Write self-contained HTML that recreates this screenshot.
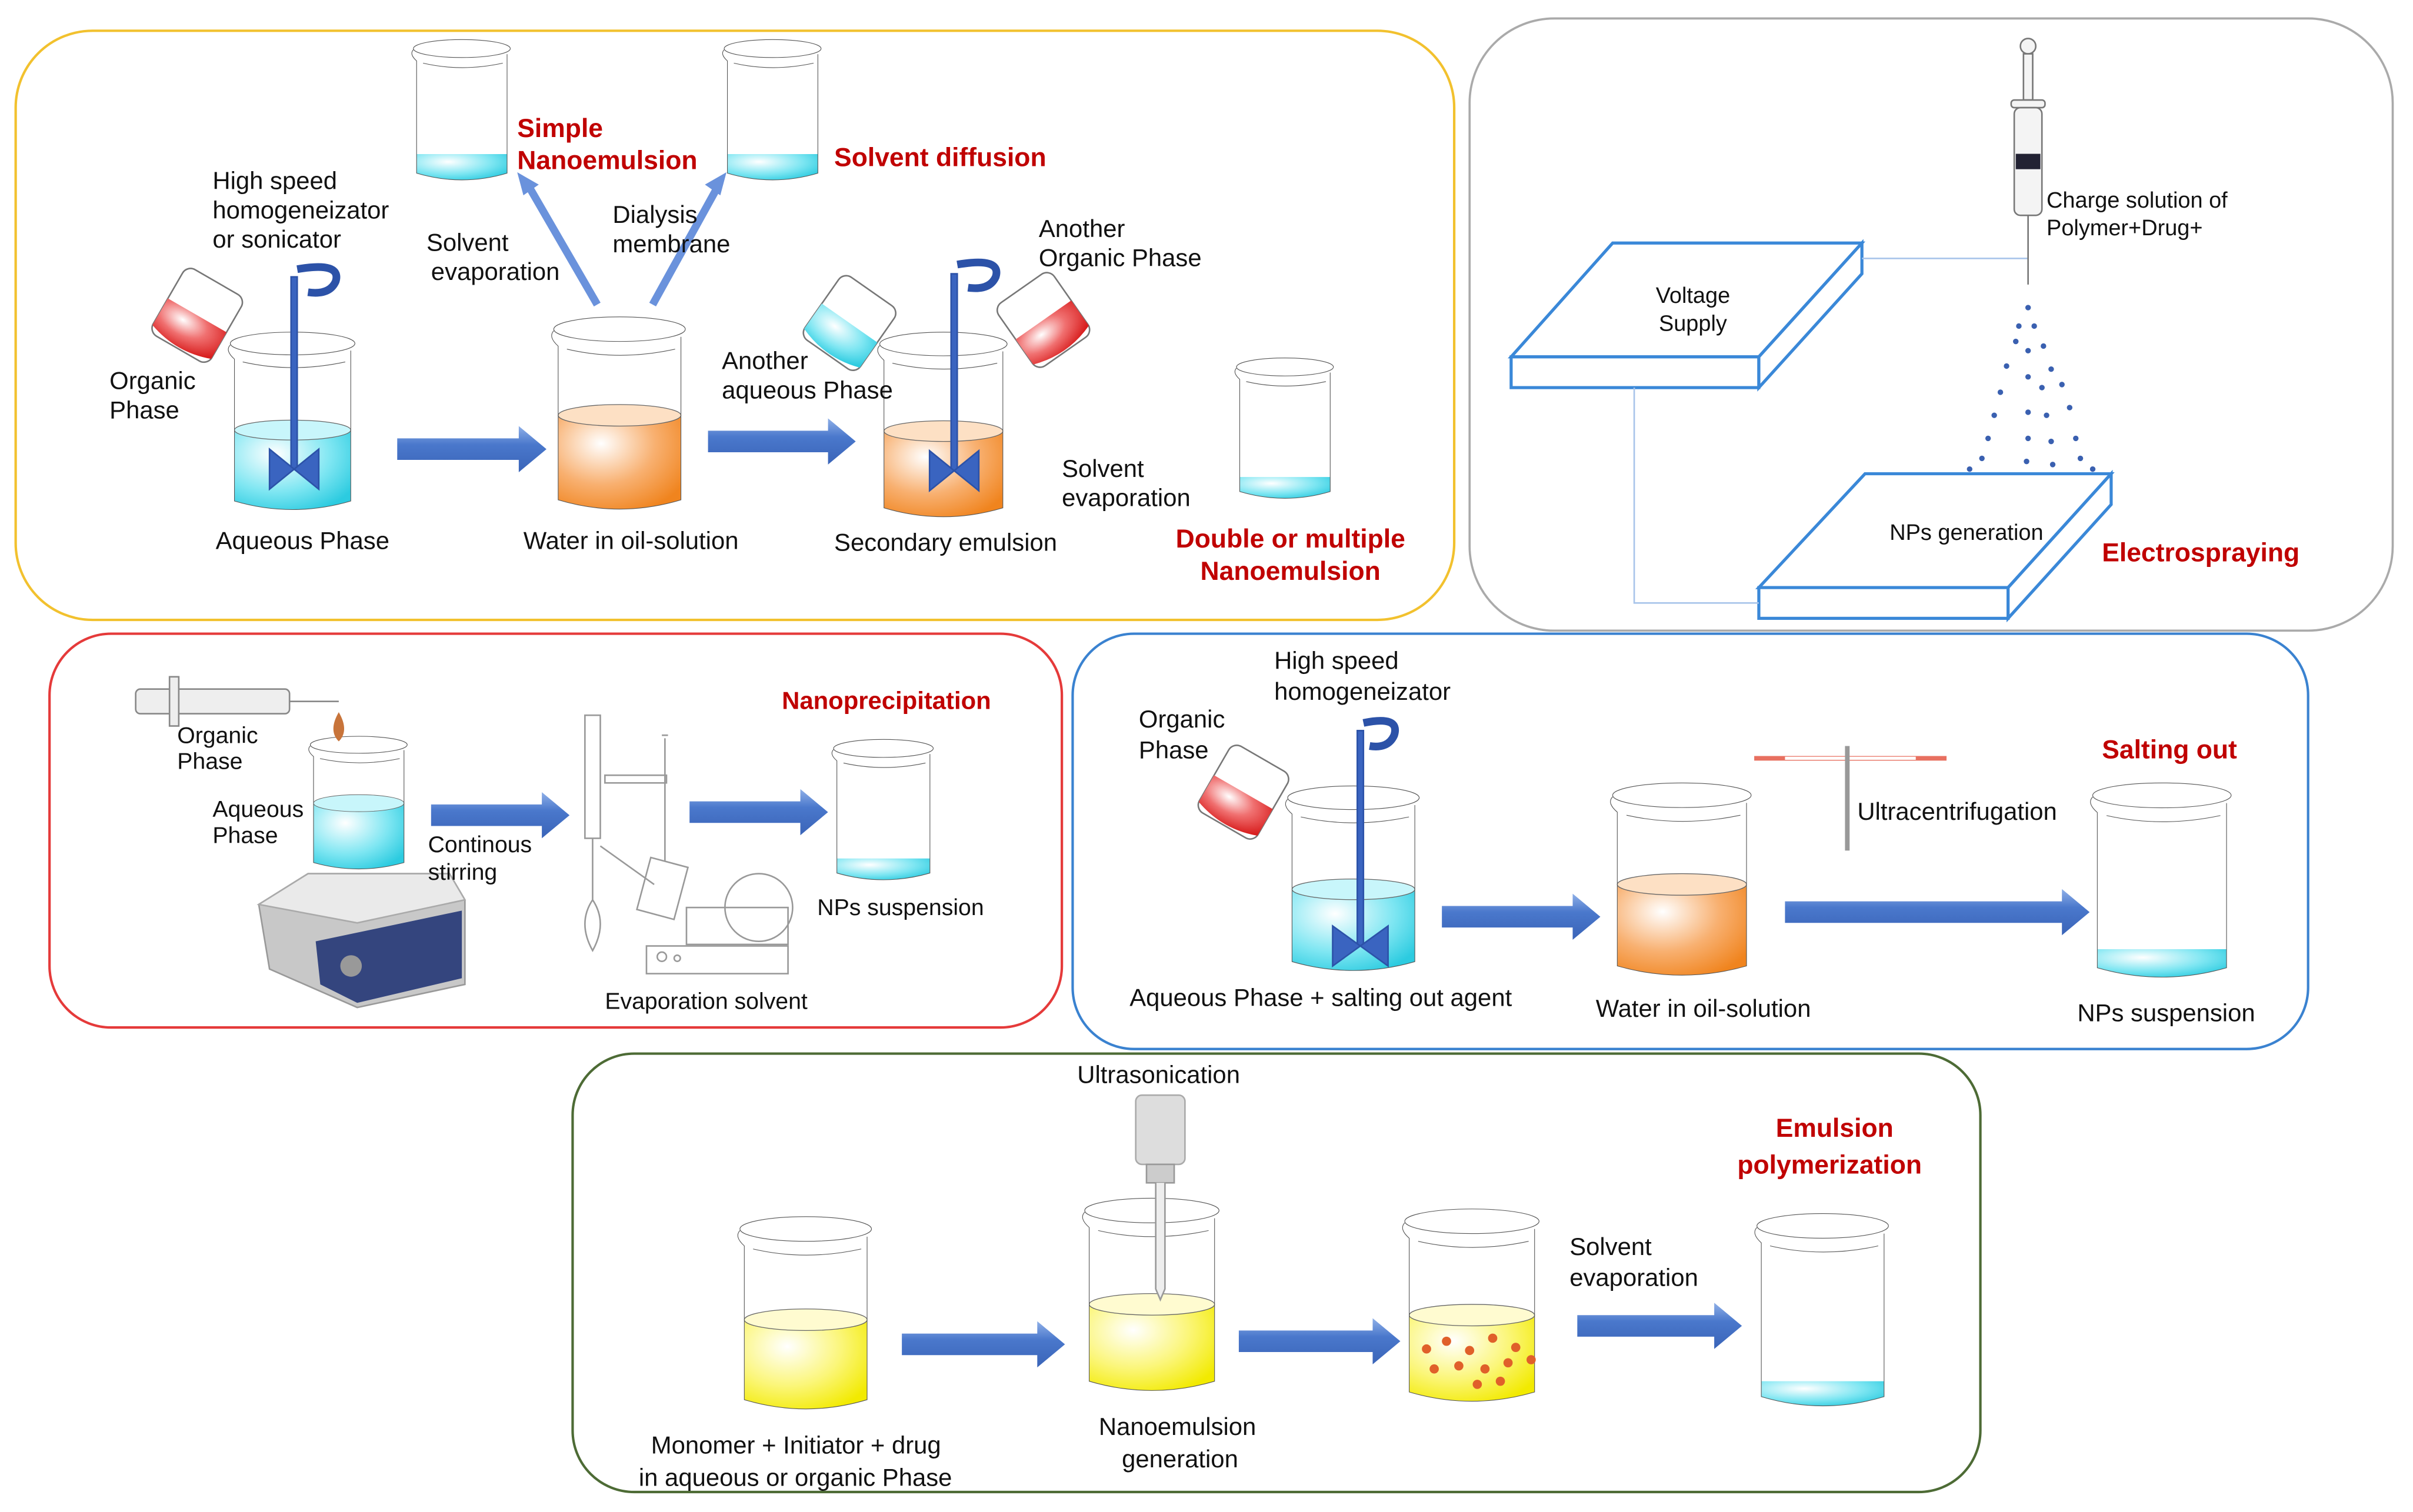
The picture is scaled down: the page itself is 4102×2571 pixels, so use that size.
<!DOCTYPE html>
<html><head><meta charset="utf-8"><style>
html,body{margin:0;padding:0;background:#fff}
svg{display:block}
text{font-family:"Liberation Sans",sans-serif;font-size:16px;fill:#111}
.r{fill:#c00000;font-weight:bold;font-size:17px}
.o{fill:none;stroke:#555;stroke-width:1.1;vector-effect:non-scaling-stroke}
</style></head><body>
<svg width="4102" height="2571" viewBox="0 0 1568 983" xmlns="http://www.w3.org/2000/svg">
<defs>
<radialGradient id="gc" cx="0.35" cy="0.3" r="0.8"><stop offset="0" stop-color="#ffffff"/><stop offset="0.6" stop-color="#7ee6f2"/><stop offset="1" stop-color="#2ccbe0"/></radialGradient>
<radialGradient id="go" cx="0.35" cy="0.3" r="0.8"><stop offset="0" stop-color="#ffffff"/><stop offset="0.55" stop-color="#f8b070"/><stop offset="1" stop-color="#f0841e"/></radialGradient>
<radialGradient id="gy" cx="0.35" cy="0.3" r="0.8"><stop offset="0" stop-color="#ffffff"/><stop offset="0.55" stop-color="#fbf67a"/><stop offset="1" stop-color="#f2ea00"/></radialGradient>
<radialGradient id="gr" cx="0.35" cy="0.3" r="0.8"><stop offset="0" stop-color="#fff"/><stop offset="0.5" stop-color="#f07070"/><stop offset="1" stop-color="#d81e1e"/></radialGradient>
<linearGradient id="ga" x1="0" y1="0" x2="0" y2="1"><stop offset="0" stop-color="#8fb0e8"/><stop offset="0.4" stop-color="#4a78cc"/><stop offset="1" stop-color="#3a64b8"/></linearGradient>
<g id="bk">
<ellipse cx="50" cy="9" rx="45" ry="8" class="o"/>
<path class="o" d="M5,10 Q1,14 8,20 L8,120 Q50,132 92,120 L92,14"/>
<path class="o" d="M14,22 Q50,30 88,22"/>
</g>
</defs>

<rect x="10" y="20" width="935" height="383" rx="50" fill="none" stroke="#f2c12e" stroke-width="1.6"/>
<rect x="955" y="12" width="600" height="398" rx="55" fill="none" stroke="#aaa" stroke-width="1.4"/>
<rect x="32" y="412" width="658" height="256" rx="40" fill="none" stroke="#e53a3a" stroke-width="1.6"/>
<rect x="697" y="412" width="803" height="270" rx="40" fill="none" stroke="#3a82d0" stroke-width="1.6"/>
<rect x="372" y="685" width="915" height="285" rx="40" fill="none" stroke="#4d6b35" stroke-width="1.6"/>

<g transform="translate(145,215) scale(0.9,0.923)"><path d="M8,70 L8,120 Q50,132 92,120 L92,70 Z" fill="url(#gc)"/><ellipse cx="50" cy="70" rx="42" ry="7" fill="#c8f6fb" stroke="#666" stroke-width="0.5"/><use href="#bk"/></g>
<g transform="translate(355,205) scale(0.95,1)"><path d="M8,65 L8,120 Q50,132 92,120 L92,65 Z" fill="url(#go)"/><ellipse cx="50" cy="65" rx="42" ry="7" fill="#fde0c4" stroke="#666" stroke-width="0.5"/><use href="#bk"/></g>
<g transform="translate(567,215) scale(0.92,0.96)"><path d="M8,68 L8,120 Q50,132 92,120 L92,68 Z" fill="url(#go)"/><ellipse cx="50" cy="68" rx="42" ry="7" fill="#fde0c4" stroke="#666" stroke-width="0.5"/><use href="#bk"/></g>
<g transform="translate(265,25) scale(0.7,0.73)"><path d="M8,103 L8,120 Q50,132 92,120 L92,103 Z" fill="url(#gc)"/><use href="#bk"/></g>
<g transform="translate(467,25) scale(0.7,0.73)"><path d="M8,103 L8,120 Q50,132 92,120 L92,103 Z" fill="url(#gc)"/><use href="#bk"/></g>
<g transform="translate(800,232) scale(0.7,0.73)"><path d="M8,107 L8,120 Q50,132 92,120 L92,107 Z" fill="url(#gc)"/><use href="#bk"/></g>
<g transform="translate(538,480) scale(0.72,0.73)"><path d="M8,107 L8,120 Q50,132 92,120 L92,107 Z" fill="url(#gc)"/><use href="#bk"/></g>
<g transform="translate(832,510) scale(0.95,0.96)"><path d="M8,71 L8,120 Q50,132 92,120 L92,71 Z" fill="url(#gc)"/><ellipse cx="50" cy="71" rx="42" ry="7" fill="#c8f6fb" stroke="#666" stroke-width="0.5"/><use href="#bk"/></g>
<g transform="translate(1043,508) scale(1,1)"><path d="M8,67 L8,120 Q50,132 92,120 L92,67 Z" fill="url(#go)"/><ellipse cx="50" cy="67" rx="42" ry="7" fill="#fde0c4" stroke="#666" stroke-width="0.5"/><use href="#bk"/></g>
<g transform="translate(1355,508) scale(1,1.01)"><path d="M8,108 L8,120 Q50,132 92,120 L92,108 Z" fill="url(#gc)"/><use href="#bk"/></g>
<g transform="translate(476,790) scale(0.95,1)"><path d="M8,68 L8,120 Q50,132 92,120 L92,68 Z" fill="url(#gy)"/><ellipse cx="50" cy="68" rx="42" ry="7" fill="#fffbd0" stroke="#666" stroke-width="0.5"/><use href="#bk"/></g>
<g transform="translate(700,778) scale(0.97,1)"><path d="M8,70 L8,120 Q50,132 92,120 L92,70 Z" fill="url(#gy)"/><ellipse cx="50" cy="70" rx="42" ry="7" fill="#fffbd0" stroke="#666" stroke-width="0.5"/><use href="#bk"/></g>
<g transform="translate(908,785) scale(0.97,1)"><path d="M8,70 L8,120 Q50,132 92,120 L92,70 Z" fill="url(#gy)"/><ellipse cx="50" cy="70" rx="42" ry="7" fill="#fffbd0" stroke="#666" stroke-width="0.5"/><use href="#bk"/></g>
<g transform="translate(1137,788) scale(0.95,1)"><path d="M8,110 L8,120 Q50,132 92,120 L92,110 Z" fill="url(#gc)"/><use href="#bk"/></g>
<g transform="translate(198,478) scale(0.7,0.69)"><path d="M8,64 L8,120 Q50,132 92,120 L92,64 Z" fill="url(#gc)"/><ellipse cx="50" cy="64" rx="42" ry="8" fill="#c8f6fb" stroke="#666" stroke-width="0.5"/><use href="#bk"/></g>
<g fill="#e0602a"><circle cx="927" cy="877" r="3"/><circle cx="940" cy="872" r="3"/><circle cx="955" cy="878" r="3"/><circle cx="970" cy="870" r="3"/><circle cx="985" cy="876" r="3"/><circle cx="932" cy="890" r="3"/><circle cx="948" cy="888" r="3"/><circle cx="965" cy="890" r="3"/><circle cx="980" cy="886" r="3"/><circle cx="995" cy="884" r="3"/><circle cx="960" cy="900" r="3"/><circle cx="975" cy="898" r="3"/></g>

<g transform="translate(128,205) rotate(30)"><rect x="-22" y="-25" width="44" height="50" rx="6" fill="#fff" stroke="#777"/><path d="M-22,0 L22,0 L22,20 Q0,28 -22,20 Z" fill="url(#gr)"/></g>
<g transform="translate(552,210) rotate(35)"><rect x="-22" y="-25" width="44" height="50" rx="6" fill="#fff" stroke="#777"/><path d="M-22,0 L22,0 L22,20 Q0,28 -22,20 Z" fill="url(#gc)"/></g>
<g transform="translate(678,208) rotate(-35)"><rect x="-22" y="-25" width="44" height="50" rx="6" fill="#fff" stroke="#777"/><path d="M-22,0 L22,0 L22,20 Q0,28 -22,20 Z" fill="url(#gr)"/></g>
<g transform="translate(808,515) rotate(30)"><rect x="-22" y="-25" width="44" height="50" rx="6" fill="#fff" stroke="#777"/><path d="M-22,0 L22,0 L22,20 Q0,28 -22,20 Z" fill="url(#gr)"/></g>

<g fill="#3a64c0" stroke="#2c52a8">
<rect x="189" y="180" width="4" height="125"/><path d="M175,292 L191,305 L175,318 Z M207,292 L191,305 L207,318 Z"/><path d="M193,175 Q222,170 218,183 Q214,192 200,190" fill="none" stroke-width="5"/>
<rect x="618" y="178" width="4" height="128"/><path d="M604,293 L620,306 L604,319 Z M636,293 L620,306 L636,319 Z"/><path d="M622,172 Q651,167 647,180 Q643,189 629,187" fill="none" stroke-width="5"/>
<rect x="882" y="475" width="4" height="140"/><path d="M866,602 L884,615 L866,628 Z M902,602 L884,615 L902,628 Z"/><path d="M886,470 Q910,465 906,478 Q902,487 890,485" fill="none" stroke-width="5"/>
</g>

<g fill="url(#ga)">
<polygon points="258,285 337,285 337,277 355,292 337,307 337,299 258,299"/>
<polygon points="460,280 538,280 538,272 556,287 538,302 538,294 460,294"/>
<polygon points="280,523 352,523 352,515 370,530 352,545 352,537 280,537"/>
<polygon points="448,521 520,521 520,513 538,528 520,543 520,535 448,535"/>
<polygon points="937,589 1022,589 1022,581 1040,596 1022,611 1022,603 937,603"/>
<polygon points="1160,586 1340,586 1340,578 1358,593 1340,608 1340,600 1160,600"/>
<polygon points="586,867 674,867 674,859 692,874 674,889 674,881 586,881"/>
<polygon points="805,865 892,865 892,857 910,872 892,887 892,879 805,879"/>
<polygon points="1025,855 1114,855 1114,847 1132,862 1114,877 1114,869 1025,869"/>
</g>
<g fill="#6a92dc">
<path d="M388,198 L344,122" stroke="#6a92dc" stroke-width="5"/><polygon points="336,112 350,120 340,127"/>
<path d="M424,198 L466,122" stroke="#6a92dc" stroke-width="5"/><polygon points="472,112 458,120 468,127"/></g>

<g fill="#fff" stroke="#3a88d8" stroke-width="2">
<polygon points="982,232 1048,158 1210,158 1143,232"/><rect x="982" y="232" width="161" height="20"/><polygon points="1143,232 1210,158 1210,178 1143,252"/>
<polygon points="1143,382 1212,308 1372,308 1305,382"/><rect x="1143" y="382" width="162" height="20"/><polygon points="1305,382 1372,308 1372,328 1305,402"/>
</g>
<path d="M1210,168 L1318,168 M1062,252 L1062,392 L1143,392" fill="none" stroke="#a8c4ea" stroke-width="1"/>
<g stroke="#777" fill="#f4f4f4"><circle cx="1318" cy="30" r="5"/><rect x="1315" y="35" width="6" height="30"/><rect x="1307" y="65" width="22" height="5" rx="2"/><rect x="1309" y="70" width="18" height="70" rx="4"/><path d="M1318,140 L1318,185" stroke-width="1"/></g>
<rect x="1310" y="100" width="16" height="10" fill="#223"/>
<g fill="#3a60b0">
<circle cx="1318" cy="200" r="1.8"/><circle cx="1312" cy="212" r="1.8"/><circle cx="1322" cy="212" r="1.8"/><circle cx="1310" cy="222" r="1.8"/><circle cx="1318" cy="228" r="1.8"/><circle cx="1328" cy="225" r="1.8"/><circle cx="1304" cy="238" r="1.8"/><circle cx="1318" cy="245" r="1.8"/><circle cx="1333" cy="240" r="1.8"/><circle cx="1300" cy="255" r="1.8"/><circle cx="1327" cy="252" r="1.8"/><circle cx="1340" cy="250" r="1.8"/><circle cx="1296" cy="270" r="1.8"/><circle cx="1318" cy="268" r="1.8"/><circle cx="1330" cy="270" r="1.8"/><circle cx="1345" cy="265" r="1.8"/><circle cx="1292" cy="285" r="1.8"/><circle cx="1318" cy="285" r="1.8"/><circle cx="1333" cy="287" r="1.8"/><circle cx="1349" cy="285" r="1.8"/><circle cx="1288" cy="298" r="1.8"/><circle cx="1317" cy="300" r="1.8"/><circle cx="1334" cy="302" r="1.8"/><circle cx="1352" cy="298" r="1.8"/><circle cx="1280" cy="305" r="1.8"/><circle cx="1360" cy="305" r="1.8"/>
</g>

<g stroke="#888" fill="#eee"><rect x="88" y="448" width="100" height="16" rx="3"/><rect x="110" y="440" width="6" height="32"/><path d="M188,456 L220,456" fill="none"/></g>
<path d="M220,463 Q213,475 220,482 Q227,475 220,463Z" fill="#c8743a"/>
<g><path d="M168,588 L200,568 L292,568 L302,585 L302,640 L232,655 L175,630 Z" fill="#c8c8c8" stroke="#999"/><path d="M168,588 L200,568 L292,568 L302,585 L232,600 Z" fill="#eaeaea" stroke="#aaa"/><path d="M205,612 L300,592 L300,636 L232,652 L208,640 Z" fill="#34457e"/><circle cx="228" cy="628" r="7" fill="#999"/></g>
<g fill="none" stroke="#999" stroke-width="1"><rect x="380" y="465" width="10" height="80"/><path d="M432,480 L432,560 M430,478 L434,478"/><rect x="393" y="504" width="40" height="5"/><path d="M385,545 L385,585 M385,585 Q375,600 385,618 Q395,600 385,585"/><path d="M390,550 L425,575"/><rect x="418" y="560" width="25" height="35" transform="rotate(15 430 577)"/><circle cx="493" cy="590" r="22"/><rect x="446" y="590" width="66" height="24"/><rect x="420" y="615" width="92" height="18"/><circle cx="430" cy="622" r="3"/><circle cx="440" cy="623" r="2"/></g>

<path d="M1140,493 L1265,493" stroke="#e87060" stroke-width="3"/><path d="M1160,493 L1245,493" stroke="#fff" stroke-width="2"/><rect x="1199" y="485" width="3" height="68" fill="#999"/>
<rect x="738" y="712" width="32" height="45" rx="4" fill="#ddd" stroke="#aaa"/><rect x="745" y="757" width="18" height="12" fill="#ccc" stroke="#999"/><path d="M751,769 L751,838 L754,845 L757,838 L757,769" fill="#eee" stroke="#999"/>

<text x="138" y="123">High speed</text><text x="138" y="142">homogeneizator</text><text x="138" y="161">or sonicator</text>
<text x="71" y="253">Organic</text><text x="71" y="272">Phase</text>
<text class="r" x="336" y="89">Simple</text><text class="r" x="336" y="110">Nanoemulsion</text>
<text class="r" x="542" y="108">Solvent diffusion</text>
<text x="277" y="163">Solvent</text><text x="280" y="182">evaporation</text>
<text x="398" y="145">Dialysis</text><text x="398" y="164">membrane</text>
<text x="675" y="154">Another</text><text x="675" y="173">Organic Phase</text>
<text x="469" y="240">Another</text><text x="469" y="259">aqueous Phase</text>
<text x="690" y="310">Solvent</text><text x="690" y="329">evaporation</text>
<text x="140" y="357">Aqueous Phase</text><text x="340" y="357">Water in oil-solution</text><text x="542" y="358">Secondary emulsion</text>
<text class="r" x="764" y="356">Double or multiple</text><text class="r" x="780" y="377">Nanoemulsion</text>
<text x="1330" y="135" style="font-size:14.5px">Charge solution of</text><text x="1330" y="153" style="font-size:14.5px">Polymer+Drug+</text>
<text x="1076" y="197" style="font-size:14.5px">Voltage</text><text x="1078" y="215" style="font-size:14.5px">Supply</text>
<text x="1228" y="351" style="font-size:14.5px">NPs generation</text>
<text class="r" x="1366" y="365">Electrospraying</text>
<text x="115" y="483" style="font-size:15px">Organic</text><text x="115" y="500" style="font-size:15px">Phase</text>
<text x="138" y="531" style="font-size:15px">Aqueous</text><text x="138" y="548" style="font-size:15px">Phase</text>
<text x="278" y="554" style="font-size:15px">Continous</text><text x="278" y="572" style="font-size:15px">stirring</text>
<text class="r" x="508" y="461" style="font-size:16px">Nanoprecipitation</text>
<text x="531" y="595" style="font-size:15px">NPs suspension</text>
<text x="393" y="656" style="font-size:15px">Evaporation solvent</text>
<text x="828" y="435">High speed</text><text x="828" y="455">homogeneizator</text>
<text x="740" y="473">Organic</text><text x="740" y="493">Phase</text>
<text class="r" x="1366" y="493">Salting out</text>
<text x="1207" y="533">Ultracentrifugation</text>
<text x="734" y="654">Aqueous Phase + salting out agent</text>
<text x="1037" y="661">Water in oil-solution</text>
<text x="1350" y="664">NPs suspension</text>
<text x="700" y="704">Ultrasonication</text>
<text class="r" x="1154" y="739">Emulsion</text><text class="r" x="1129" y="763">polymerization</text>
<text x="1020" y="816">Solvent</text><text x="1020" y="836">evaporation</text>
<text x="714" y="933">Nanoemulsion</text><text x="729" y="954">generation</text>
<text x="423" y="945">Monomer + Initiator + drug</text><text x="415" y="966">in aqueous or organic Phase</text>
</svg>
</body></html>
